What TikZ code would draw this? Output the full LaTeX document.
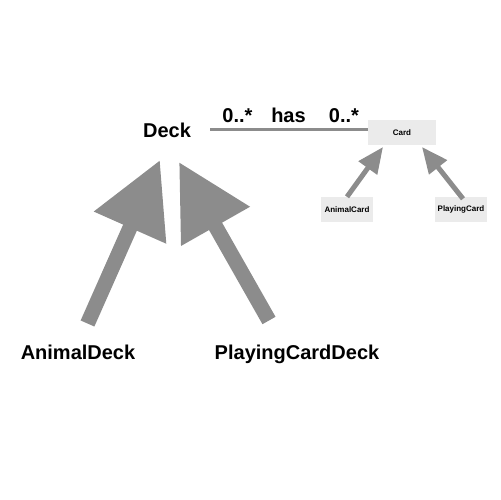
\documentclass[tikz,border=0pt]{standalone}
\usepackage{fontspec}
\setmainfont{Liberation Sans}
\usetikzlibrary{arrows.meta}
\definecolor{arrowgray}{RGB}{140,140,140}
\definecolor{boxgray}{RGB}{235,235,235}
\begin{document}
\begin{tikzpicture}[x=1bp,y=-1bp,
  biglabel/.style={font=\fontsize{20bp}{24bp}\selectfont\bfseries, inner sep=0pt, anchor=base},
  classbox/.style={fill=boxgray, draw=none, minimum height=25bp, inner sep=0pt, font=\fontsize{8bp}{10bp}\selectfont\bfseries},
  bigarrow/.style={color=arrowgray, line width=15bp, -{Triangle[length=74bp,width=75bp]}},
  smallarrow/.style={color=arrowgray, line width=5bp, -{Triangle[length=26bp,width=22bp]}},
  assoc/.style={color=arrowgray, line width=3bp}]
\useasboundingbox (0,0) rectangle (500,500);

% labels
\node[biglabel] (deck) at (167,138) {Deck};
\node[biglabel] (animaldeck) at (78,359) {AnimalDeck};
\node[biglabel] (playingdeck) at (297,359) {PlayingCardDeck};
\node[biglabel] (multL) at (237.5,123) {0..*};
\node[biglabel] (has) at (288.5,123) {has};
\node[biglabel] (multR) at (344,123) {0..*};

% class boxes
\node[classbox, minimum width=68bp] (card) at (402,132.5) {Card};
\node[classbox, minimum width=52bp] (animalcard) at (347,209.5) {AnimalCard};
\node[classbox, minimum width=52bp] (playingcard) at (461,209.5) {PlayingCard};

% association
\coordinate (assocStart) at (210,130);
\draw[assoc] (assocStart) -- (assocStart -| card.west);

% big inheritance arrows
\coordinate (adTail) at (87.5,323.5);
\coordinate (adTip) at (160,160);
\coordinate (pdTail) at (269,320.5);
\coordinate (pdTip) at (179,162);
\draw[bigarrow] (adTail) -- (adTip);
\draw[bigarrow] (pdTail) -- (pdTip);

% small inheritance arrows
\coordinate (acTip) at (383,147);
\coordinate (pcTip) at (422,147);
\draw[smallarrow] (animalcard.north) -- (acTip);
\draw[smallarrow] ([xshift=2bp,yshift=-2bp]playingcard.north) -- (pcTip);
\end{tikzpicture}
\end{document}
